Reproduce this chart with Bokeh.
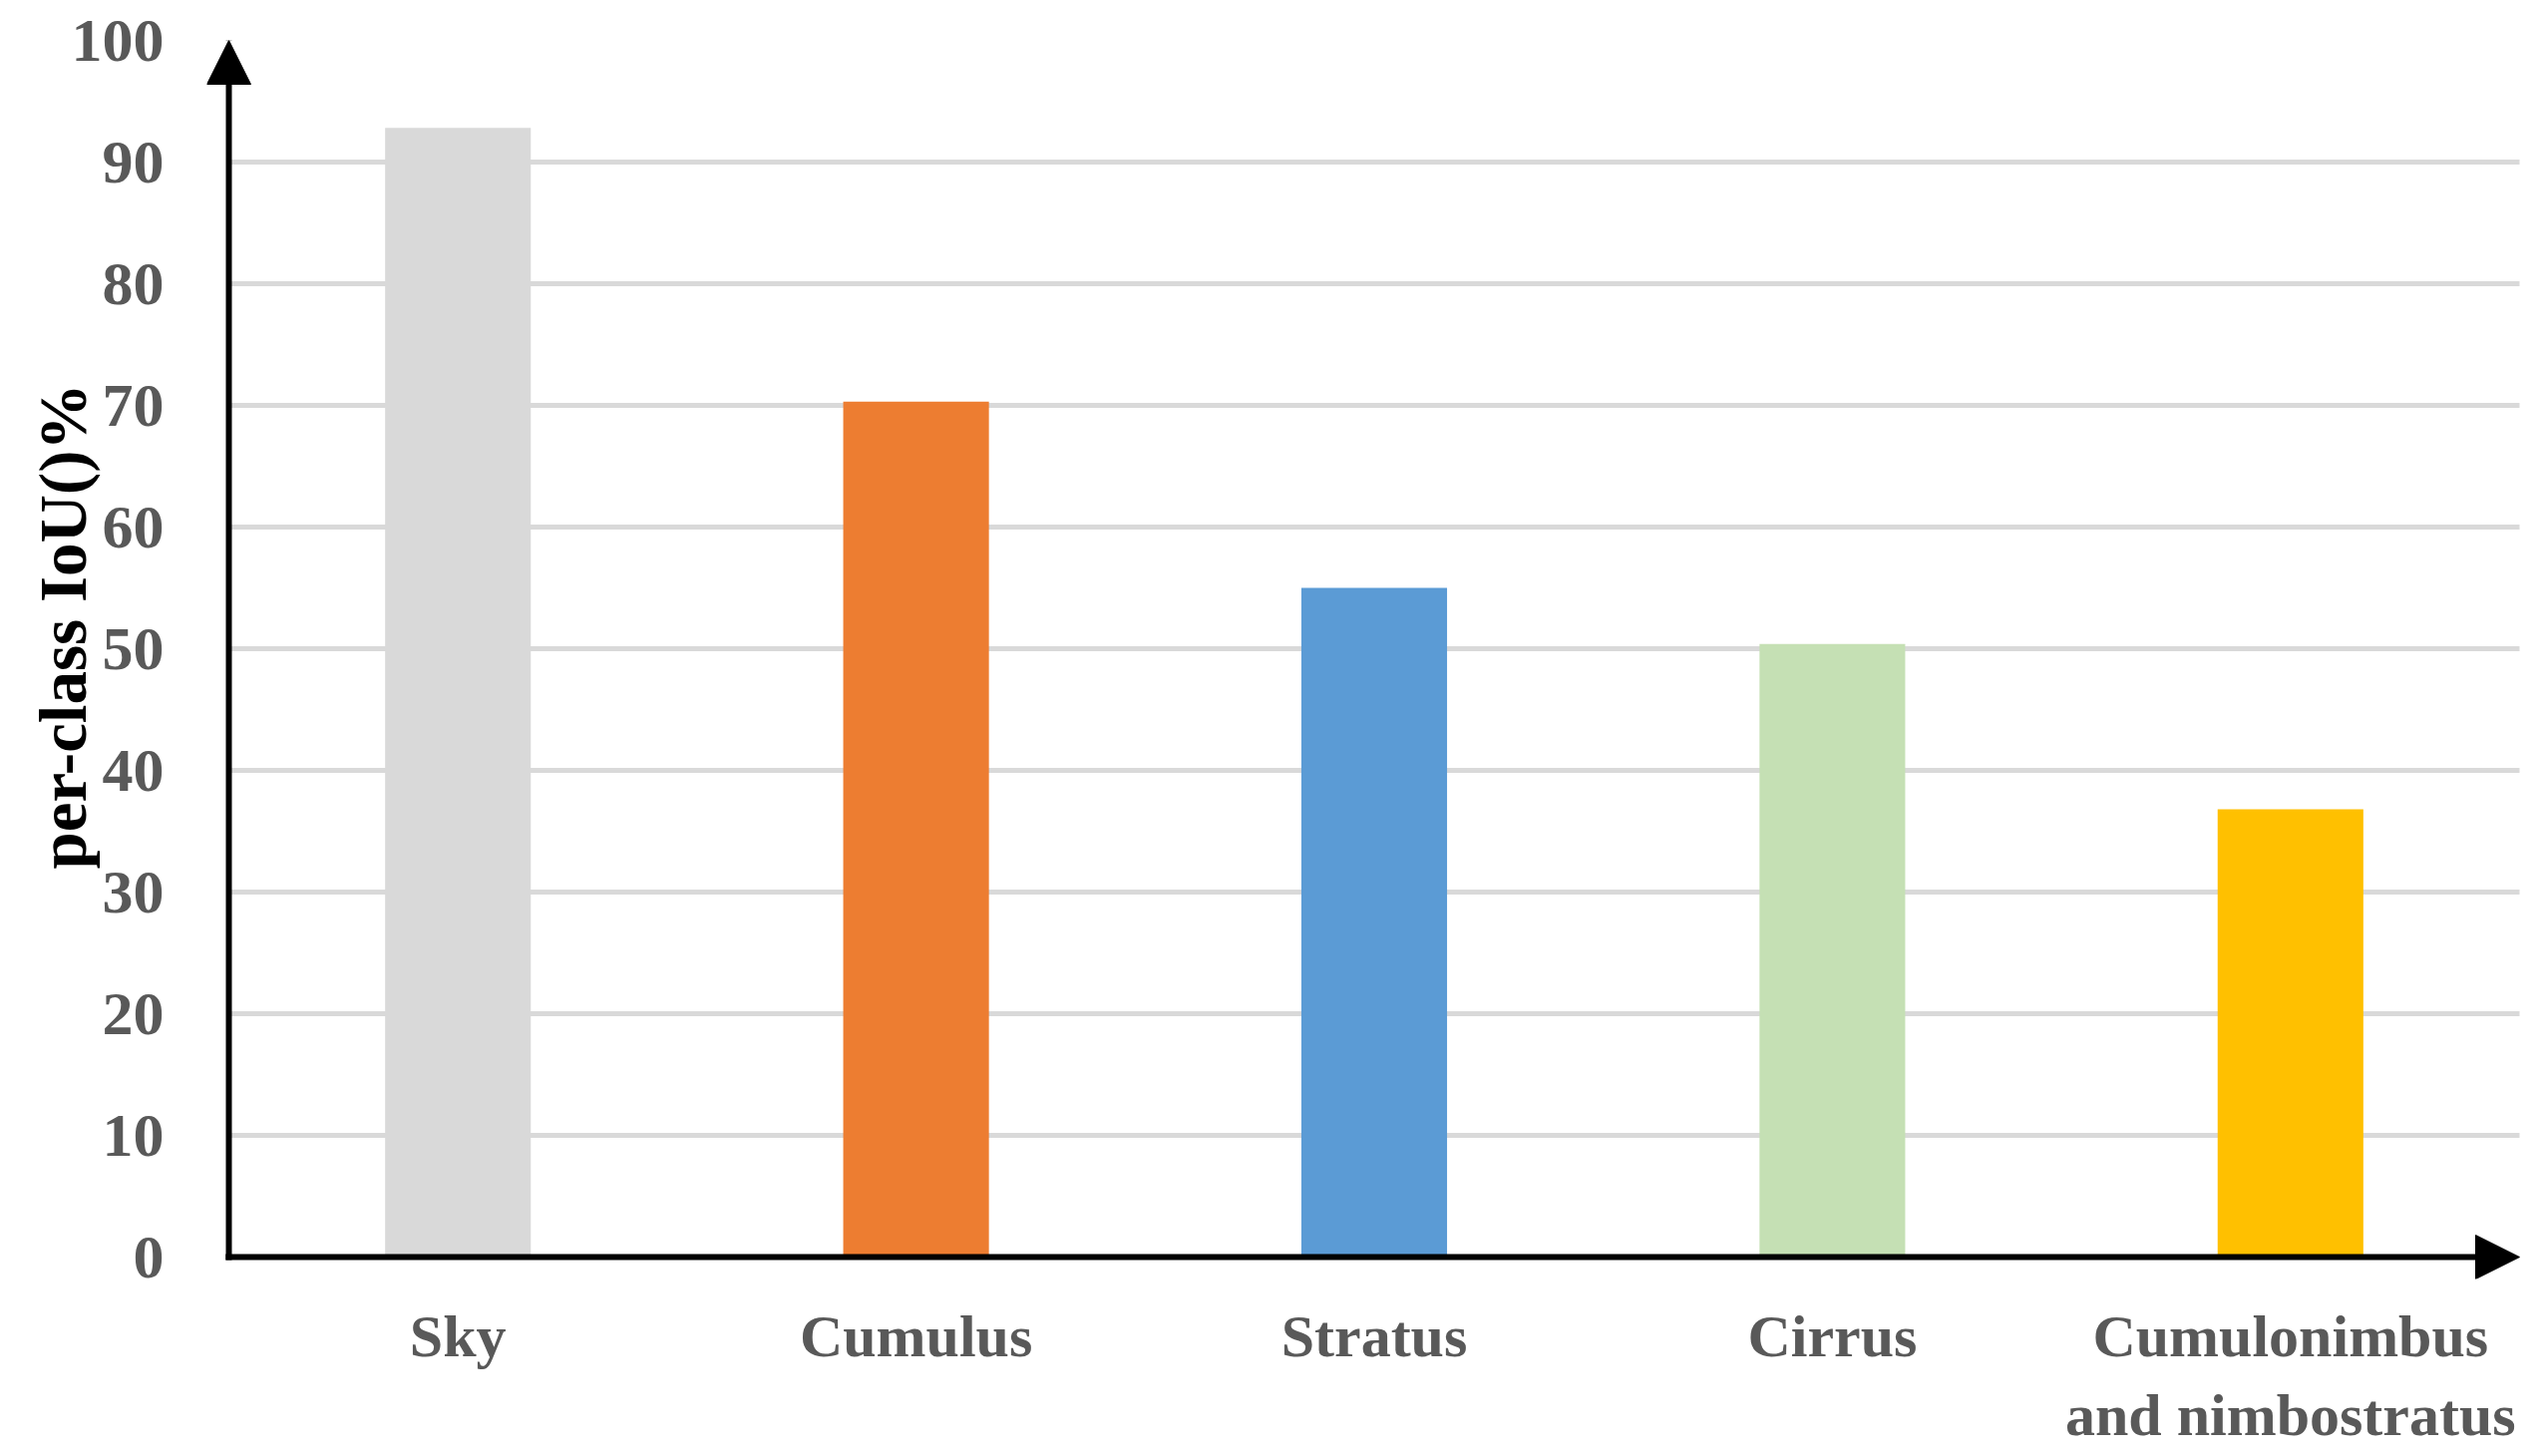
from bokeh.plotting import figure
from bokeh.models import FactorRange, Range1d, FixedTicker, Arrow, NormalHead
from bokeh.embed import file_html
from bokeh.resources import INLINE

categories = ["Sky", "Cumulus", "Stratus", "Cirrus", "Cumulonimbus\nand nimbostratus"]
iou_values = [92.8, 70.3, 55.0, 50.4, 36.8]
bar_colors = ["#d9d9d9", "#ed7d31", "#5b9bd5", "#c5e0b4", "#ffc000"]
y_ticks = [0, 10, 20, 30, 40, 50, 60, 70, 80, 90, 100]
grid_ticks = [10, 20, 30, 40, 50, 60, 70, 80, 90]
y_label = "per-class IoU()%"

FONT = "Liberation Serif"
Y_MAX = 100.0
Y_MIN = -1.8

p = figure(
    width=2548, height=1460,
    x_range=FactorRange(*categories, range_padding=0.01916, range_padding_units="percent"),
    y_range=Range1d(Y_MIN, Y_MAX),
    output_backend="svg", toolbar_location=None,
    min_border_left=207, min_border_right=0,
    min_border_top=40, min_border_bottom=178,
)
p.outline_line_color = None
p.background_fill_color = "white"
p.border_fill_color = "white"
p.grid.visible = False

n = len(categories)
# horizontal grid lines spanning the category axis
p.segment(x0=[0] * len(grid_ticks), x1=[n] * len(grid_ticks), y0=grid_ticks, y1=grid_ticks,
          line_color="#d9d9d9", line_width=5)

p.vbar(x=categories, top=iou_values, width=0.318, color=bar_colors, line_color=None)

# y axis (labels only; line drawn as arrow)
p.yaxis.ticker = FixedTicker(ticks=y_ticks)
p.yaxis.axis_line_color = None
p.yaxis.major_tick_line_color = None
p.yaxis.minor_tick_line_color = None
p.yaxis.major_tick_out = 0
p.yaxis.major_label_standoff = 43
p.yaxis.major_label_text_font = FONT
p.yaxis.major_label_text_font_style = "bold"
p.yaxis.major_label_text_font_size = "62px"
p.yaxis.major_label_text_color = "#595959"
p.yaxis.axis_label = "\u00a0\u00a0\u00a0\u00a0" + y_label
p.yaxis.axis_label_text_font = FONT
p.yaxis.axis_label_text_font_style = "bold"
p.yaxis.axis_label_text_font_size = "67px"
p.yaxis.axis_label_text_color = "black"
p.yaxis.axis_label_standoff = -31

# x axis (labels only; line drawn as arrow)
p.xaxis.axis_line_color = None
p.xaxis.major_tick_line_color = None
p.xaxis.minor_tick_line_color = None
p.xaxis.major_tick_out = 0
p.xaxis.major_label_standoff = 24
p.xaxis.major_label_text_font = FONT
p.xaxis.major_label_text_font_style = "bold"
p.xaxis.major_label_text_font_size = "60px"
p.xaxis.major_label_text_color = "#595959"
p.xaxis.major_label_text_line_height = 1.2

# axis arrows
p.add_layout(Arrow(x_start=0, y_start=-0.25, x_end=0, y_end=Y_MAX,
                   line_color="black", line_width=6,
                   end=NormalHead(size=44, fill_color="black", line_color="black", line_width=1)))
p.add_layout(Arrow(x_start=-0.007, y_start=0, x_end=n, y_end=0,
                   line_color="black", line_width=6,
                   end=NormalHead(size=44, fill_color="black", line_color="black", line_width=1)))

open("out.html", "w").write(file_html(p, INLINE))
